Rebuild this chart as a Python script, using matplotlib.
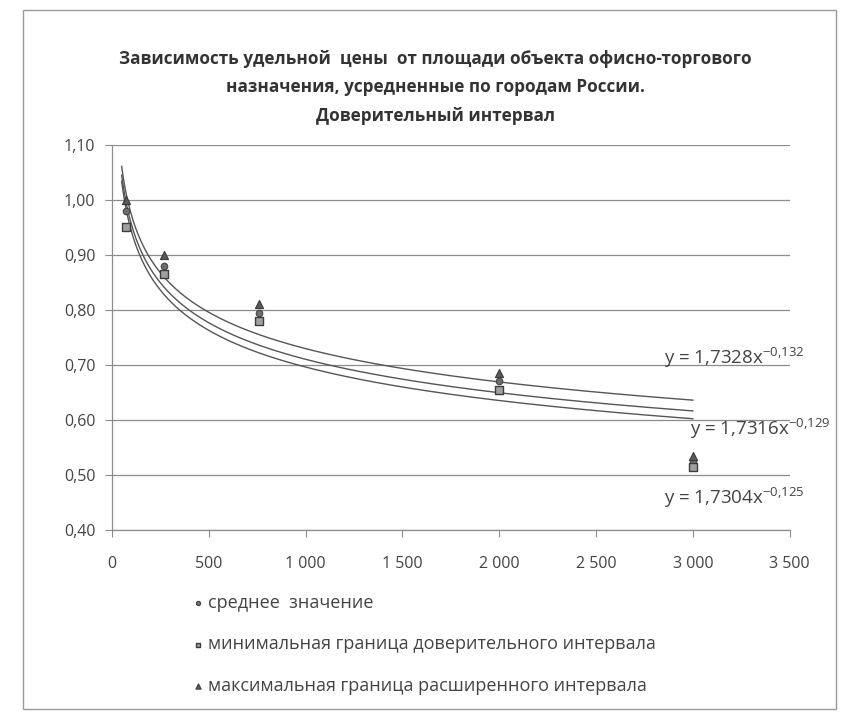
#!/usr/bin/env python3
"""Specific price vs. office/retail object area, averaged over Russian cities."""

import matplotlib

matplotlib.use("Agg")
import matplotlib.pyplot as plt
import numpy as np
from matplotlib.patches import Rectangle
from matplotlib.ticker import FuncFormatter, MultipleLocator

# площадь объекта, м2
AREA = [75, 270, 760, 2000, 3000]
MEAN_VALUES = [0.98, 0.88, 0.795, 0.67, 0.525]
MIN_VALUES = [0.95, 0.865, 0.78, 0.655, 0.515]
MAX_VALUES = [1.00, 0.90, 0.81, 0.685, 0.535]

# степенные линии тренда y = a * x^b
TREND_A = [1.7328, 1.7316, 1.7304]
TREND_B = [-0.132, -0.129, -0.125]
TREND_X_RANGE = (50, 3000)
TREND_LABEL_POS = [(2850, 0.713), (2985, 0.585), (2850, 0.458)]

SERIES_LABELS = [
    "среднее  значение",
    "минимальная граница доверительного интервала",
    "максимальная граница расширенного интервала",
]
TITLE = (
    "Зависимость удельной  цены  от площади объекта офисно-торгового\n"
    "назначения, усредненные по городам России.\n"
    "Доверительный интервал"
)

TEXT = "#444444"
GRID = "#8c8c8c"

plt.rcParams["font.family"] = ["Open Sans", "DejaVu Sans"]
plt.rcParams["mathtext.fontset"] = "custom"
plt.rcParams["mathtext.rm"] = "Open Sans"


def _ru_number(value: float, decimals: int) -> str:
    text = f"{value:,.{decimals}f}"
    return text.replace(",", " ").replace(".", ",")


def _trend_label(a: float, b: float) -> str:
    a_txt = f"{a:.4f}".replace(".", ",")
    b_txt = f"{b:.3f}".replace(".", "{,}")
    return f"y = {a_txt}x$^{{\\mathregular{{{b_txt}}}}}$"


def main() -> None:
    fig = plt.figure(figsize=(8.45, 7.13), dpi=100)
    fig.patches.append(
        Rectangle((0.027, 0.006), 0.962, 0.98, transform=fig.transFigure,
                  fill=False, edgecolor="#9a9a9a", linewidth=1.0)
    )
    ax = fig.add_axes([0.1325, 0.2567, 0.802, 0.54])

    xs = np.linspace(*TREND_X_RANGE, 400)
    for a, b in zip(TREND_A, TREND_B):
        ax.plot(xs, a * xs ** b, color="#555555", linewidth=1.0, zorder=2)
    for (tx, ty), a, b in zip(TREND_LABEL_POS, TREND_A, TREND_B):
        ax.text(tx, ty, _trend_label(a, b), fontsize=13.5, color=TEXT,
                ha="left", va="center", clip_on=False, zorder=4)

    ax.scatter(AREA, MEAN_VALUES, marker="o", s=22, color="#6e6e6e",
               edgecolor="#444444", linewidth=0.8, label=SERIES_LABELS[0], zorder=3)
    ax.scatter(AREA, MIN_VALUES, marker="s", s=30, color="#a0a0a0",
               edgecolor="#3c3c3c", linewidth=1.0, label=SERIES_LABELS[1], zorder=3)
    ax.scatter(AREA, MAX_VALUES, marker="^", s=34, color="#5a5a5a",
               edgecolor="#3c3c3c", linewidth=0.8, label=SERIES_LABELS[2], zorder=3)

    ax.set_xlim(0, 3500)
    ax.set_ylim(0.40, 1.10)
    ax.xaxis.set_major_locator(MultipleLocator(500))
    ax.yaxis.set_major_locator(MultipleLocator(0.1))
    ax.xaxis.set_major_formatter(FuncFormatter(lambda v, _: _ru_number(v, 0)))
    ax.yaxis.set_major_formatter(FuncFormatter(lambda v, _: _ru_number(v, 2)))
    ax.tick_params(axis="both", labelsize=11.5, colors=GRID, labelcolor=TEXT,
                   direction="out", length=5, width=0.8)
    ax.tick_params(axis="x", pad=14)
    ax.tick_params(axis="y", pad=7)
    ax.grid(True, axis="y", color=GRID, linewidth=0.9)
    ax.set_axisbelow(True)
    for side in ("top", "right"):
        ax.spines[side].set_visible(False)
    for side in ("left", "bottom"):
        ax.spines[side].set_color(GRID)
        ax.spines[side].set_linewidth(0.9)

    fig.text(0.515, 0.93, TITLE, ha="center", va="top", fontsize=12.3,
             fontweight="bold", color="#333333", linespacing=1.75)

    fig.legend(loc="upper left", bbox_to_anchor=(0.215, 0.177), frameon=False,
               fontsize=13, labelcolor=TEXT, handletextpad=0.05, labelspacing=1.3,
               markerscale=0.65, borderaxespad=0, handlelength=1.0)

    fig.savefig("out.png", dpi=100, facecolor="white")
    plt.close(fig)


if __name__ == "__main__":
    main()
